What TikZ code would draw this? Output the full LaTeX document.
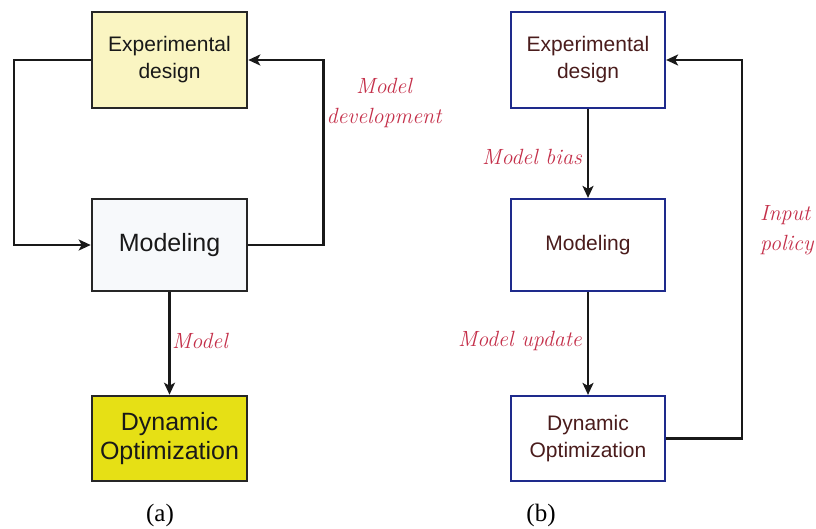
\documentclass[tikz,border=0pt]{standalone}
\usepackage{fontspec}
\setmainfont{Latin Modern Roman}
\newfontfamily\boxfont{Liberation Sans}
\newfontfamily\capfont{Liberation Serif}
\usetikzlibrary{arrows.meta}
\definecolor{lightyel}{HTML}{FAF5C2}
\definecolor{brightyel}{HTML}{E6E015}
\definecolor{palewhite}{HTML}{F7F9FB}
\definecolor{lblred}{HTML}{C4304A}
\definecolor{maroon}{HTML}{4A1C1C}
\definecolor{boxblue}{HTML}{1E2A8C}
\tikzset{
  boxa/.style={draw=black!85, line width=2.6pt, minimum width=155pt, inner sep=0pt, align=center, text=black!90, font=\boxfont\fontsize{21}{27}\selectfont},
  boxb/.style={draw=boxblue, line width=2.2pt, minimum width=154pt, inner sep=0pt, align=center, fill=white, text=maroon, font=\boxfont\fontsize{21}{27}\selectfont},
  arr/.style={line width=2.4pt, draw=black!90, -{Stealth[length=12pt,width=11pt,inset=3pt]}},
  lbl/.style={text=lblred, font=\itshape\fontsize{22}{30}\selectfont, inner sep=0pt, align=center},
  captxt/.style={font=\capfont\fontsize{25}{28}\selectfont, inner sep=0pt}
}
\begin{document}
\begin{tikzpicture}[x=1pt,y=-1pt]
\useasboundingbox (0,0) rectangle (816,529);
% (a)
\node[boxa, fill=lightyel, minimum height=96pt] (ExpA) at (169.5,60) {Experimental\\design};
\node[boxa, fill=palewhite, minimum height=92pt, font=\boxfont\fontsize{25}{29}\selectfont] (ModA) at (169.5,245) {Modeling};
\node[boxa, fill=brightyel, minimum height=85pt, font=\boxfont\fontsize{25}{29}\selectfont] (DynA) at (169.5,438.5) {Dynamic\\Optimization};
\draw[arr] (ExpA.west) -- ++(-77,0) |- (ModA.west);
\draw[arr] (ModA.east) -- ++(75,0) |- (ExpA.east);
\draw[arr] (ModA.south) -- (DynA.north);
\node[lbl] (LDev) at (384,103) {Model\\development};
\node[lbl, anchor=west] (LMod) at (172,341) {Model};
\node[captxt] (CapA) at (160,515) {(a)};
% (b)
\node[boxb, minimum height=96pt] (ExpB) at (588,60) {Experimental\\design};
\node[boxb, minimum height=92pt] (ModB) at (588,245) {Modeling};
\node[boxb, minimum height=85pt] (DynB) at (588,438.5) {Dynamic\\Optimization};
\draw[arr] (ExpB.south) -- (ModB.north);
\draw[arr] (ModB.south) -- (DynB.north);
\draw[arr] (DynB.east) -- ++(76,0) |- (ExpB.east);
\node[lbl, anchor=east] (LBias) at (582,157) {Model bias};
\node[lbl, anchor=east] (LUpd) at (582,341) {Model update};
\node[lbl, anchor=west, align=left] (LInp) at (760,230) {Input\\policy};
\node[captxt] (CapB) at (541,515) {(b)};
\end{tikzpicture}
\end{document}
